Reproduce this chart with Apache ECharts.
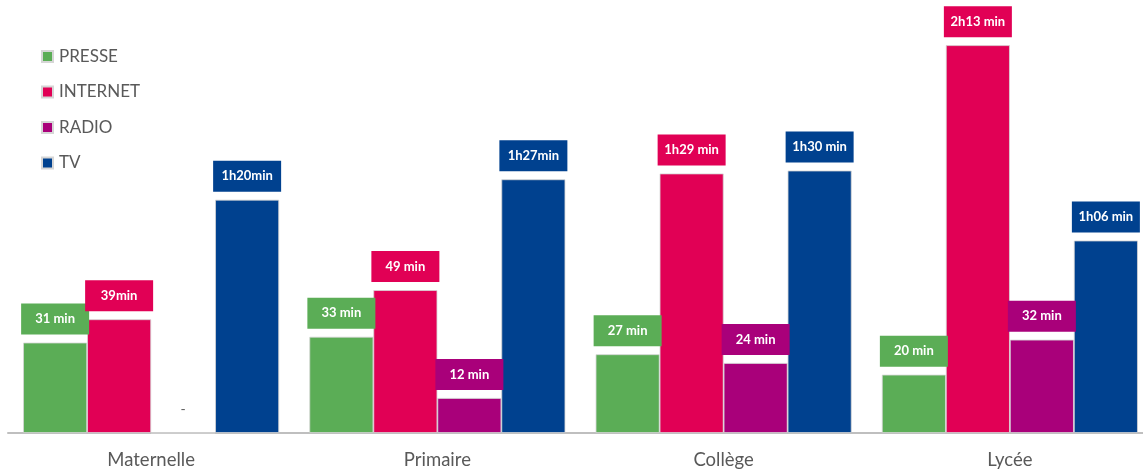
<!DOCTYPE html>
<html>
<head>
<meta charset="utf-8">
<script src="https://cdn.jsdelivr.net/npm/echarts@6/dist/echarts.min.js"></script>
<style>html,body{margin:0;padding:0;background:#fff;}#c{width:1143px;height:469px;}</style>
</head>
<body>
<div id="c"></div>
<script>
const categories = ['Maternelle', 'Primaire', 'Collège', 'Lycée'];
const seriesNames = ['PRESSE', 'INTERNET', 'RADIO', 'TV'];
// values in minutes
const presse = [31, 33, 27, 20];
const internet = [39, 49, 89, 133];
const radio = [0, 12, 24, 32];
const tv = [80, 87, 90, 66];
// label texts as shown
const presseLabels = ['31 min', '33 min', '27 min', '20 min'];
const internetLabels = ['39min', '49 min', '1h29 min', '2h13 min'];
const radioLabels = ['-', '12 min', '24 min', '32 min'];
const tvLabels = ['1h20min', '1h27min', '1h30 min', '1h06 min'];

const colors = ['#5BAD56', '#E10055', '#A9007A', '#00418F'];
const allValues = [presse, internet, radio, tv];
const allLabels = [presseLabels, internetLabels, radioLabels, tvLabels];

const chart = echarts.init(document.getElementById('c'), null, {renderer: 'canvas'});

const series = seriesNames.map((name, s) => ({
  name: name,
  type: 'bar',
  barWidth: 64,
  barGap: '0%',
  itemStyle: { color: colors[s], borderColor: '#d6d6d6', borderWidth: 0.8 },
  label: {
    show: true,
    position: 'top',
    distance: 8,
    formatter: (p) => allLabels[s][p.dataIndex],
    backgroundColor: colors[s],
    color: '#ffffff',
    fontFamily: 'Lato',
    fontWeight: 'bold',
    fontSize: 13,
    width: 68,
    lineHeight: 15,
    padding: [8, 0],
    align: 'center'
  },
  data: allValues[s].map((v) => v === 0
    ? { value: v, label: { backgroundColor: 'transparent', color: '#595959', fontWeight: 'normal', fontSize: 14 } }
    : { value: v })
}));

chart.setOption({
  animation: false,
  color: colors,
  legend: {
    orient: 'vertical',
    left: 41,
    top: 48,
    padding: 0,
    itemWidth: 11,
    itemHeight: 11,
    itemGap: 18.5,
    icon: 'rect',
    textStyle: { color: '#595959', fontFamily: 'Lato', fontSize: 17, lineHeight: 16, padding: [0, 0, 0, 1] },
    data: seriesNames
  },
  grid: { left: 8, top: 0, width: 1145, height: 433, containLabel: false, outerBoundsMode: 'none' },
  xAxis: {
    type: 'category',
    data: categories,
    axisLine: { lineStyle: { color: '#BFBFBF', width: 2 } },
    axisTick: { show: false },
    axisLabel: { color: '#595959', fontFamily: 'Lato', fontSize: 18.5, margin: 18 }
  },
  yAxis: {
    type: 'value',
    min: 0,
    max: 148.5,
    show: false,
    splitLine: { show: false }
  },
  series: series
});
</script>
</body>
</html>
